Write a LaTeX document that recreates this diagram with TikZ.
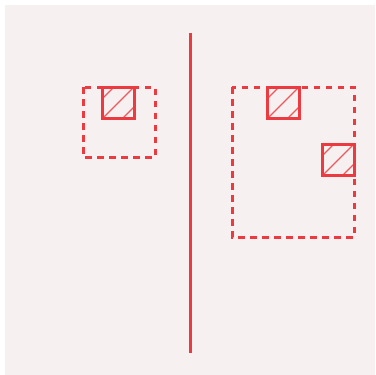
\documentclass[tikz,border=0pt]{standalone}
\usetikzlibrary{calc}
\definecolor{bgc}{HTML}{F7F0F0}
\definecolor{redc}{HTML}{EC3B40}
\begin{document}
\begin{tikzpicture}[x=1pt,y=-1pt,
  dashbox/.style={draw=redc,line width=3pt,dash pattern=on 6.5pt off 5.5pt},
  hatchsq/.style={draw=redc,line width=3pt},
  hatchln/.style={draw=redc!85,line width=1.3pt}]
\useasboundingbox (0,0) rectangle (376,375);
\fill[bgc] (5,5) rectangle (375,375);
% vertical divider
\coordinate (dtop) at (190,33);
\coordinate (dbot) at (190,353);
\draw[draw=redc,line width=3pt] (dtop) -- (dbot);
% left dashed box
\draw[dashbox] (83,87) rectangle (155,157);
% right dashed box
\draw[dashbox] (232,87) rectangle (354,237);
% hatched squares
\foreach \x/\y in {102/87, 267/87, 322/144}{
  \begin{scope}
    \clip (\x,\y) rectangle ++(32,31);
    \foreach \k in {12,32,52}{
      \draw[hatchln] ($(\x,\y)+(\k,0)$) -- ++(-60,60);
    }
  \end{scope}
  \draw[hatchsq] (\x,\y) rectangle ++(32,31);
}
\end{tikzpicture}
\end{document}
